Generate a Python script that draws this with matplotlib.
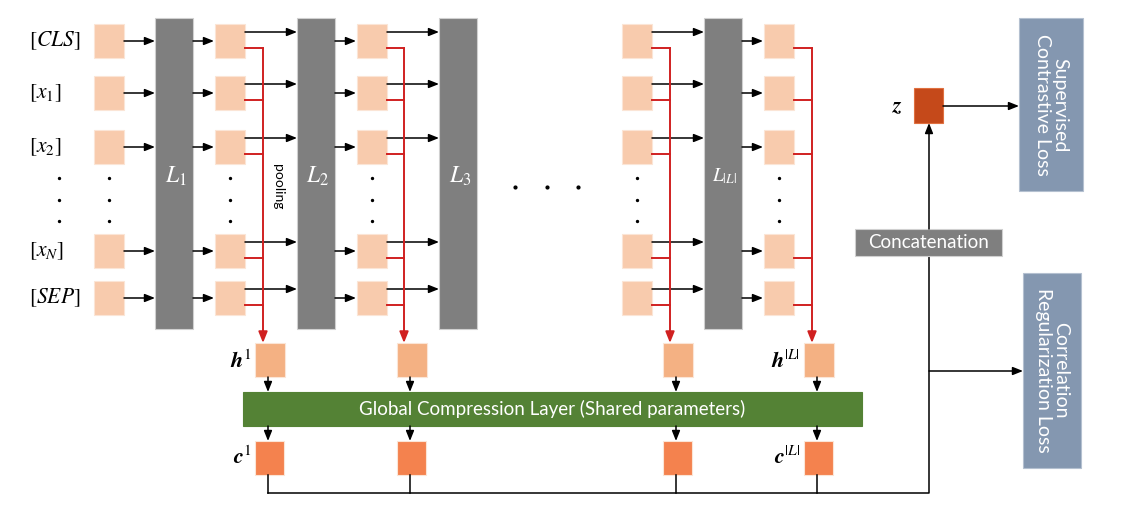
import matplotlib
matplotlib.use("Agg")
import matplotlib.pyplot as plt
from matplotlib.patches import Rectangle

plt.rcParams['mathtext.fontset'] = 'stix'
plt.rcParams['font.family'] = ['Lato', 'DejaVu Sans']

# Diagram content
token_labels = [r'$[CLS]$', r'$[x_1]$', r'$[x_2]$', r'$[x_N]$', r'$[SEP]$']
layer_labels = [r'$L_1$', r'$L_2$', r'$L_3$', r'$L_{|L|}$']
h_labels = [r'$\mathbfit{h}^1$', '', '', r'$\mathbfit{h}^{|L|}$']
c_labels = [r'$\mathbfit{c}^1$', '', '', r'$\mathbfit{c}^{|L|}$']
compress_label = 'Global Compression Layer (Shared parameters)'
concat_label = 'Concatenation'
z_label = r'$\mathbfit{z}$'
loss_labels = ['Supervised\nContrastive Loss', 'Correlation\nRegularization Loss']
pool_label = 'pooling'

# Layout (pixel coordinates)
row_tops = [24, 76, 130, 234, 281]
box_h = 34
box_w = 30
col_x = [94, 215, 357, 622, 764]
bar_x = [155, 297, 439, 704]
bar_w = 38
bar_top, bar_bot = 18, 329
pool_x = [263, 404, 670, 812]       # red pooling verticals
hc_x = [255, 397, 663, 804]         # h / c boxes
hc_w = 30
h_top, h_bot = 343, 377
g_top, g_bot = 392, 426
c_top, c_bot = 441, 475
bus_y = 493
trunk_x = 929

c_in = '#F8CBAD'
c_bar = '#7F7F7F'
c_h = '#F4B183'
c_c = '#F4824E'
c_green = '#548235'
c_loss = '#8497B0'
c_z = '#C5491A'
c_red = '#D02020'

fig = plt.figure(figsize=(11.23, 5.18), dpi=100)
ax = fig.add_axes([0, 0, 1, 1])
ax.set_xlim(0, 1123)
ax.set_ylim(518, 0)
ax.axis('off')


def rect(x, y, w, h, fc, ec='#EDEDED', lw=0.8, z=2):
    ax.add_patch(Rectangle((x, y), w, h, facecolor=fc, edgecolor=ec, lw=lw, zorder=z))


def arrow(x1, y1, x2, y2, color='black', lw=1.1, ms=11):
    ax.annotate('', xy=(x2, y2), xytext=(x1, y1),
                arrowprops=dict(arrowstyle='-|>,head_length=0.55,head_width=0.22',
                                color=color, lw=lw, mutation_scale=ms,
                                shrinkA=0, shrinkB=0), zorder=3)


# token labels
for lab, top in zip(token_labels, row_tops):
    ax.text(29, top + box_h / 2, lab, fontsize=15.5, ha='left', va='center')

# token boxes in every column
for cx in col_x:
    for top in row_tops:
        rect(cx, top, box_w, box_h, c_in, ec='#FBE5D6')

# layer bars
for bx, lab in zip(bar_x, layer_labels):
    rect(bx, bar_top, bar_w, bar_bot - bar_top, c_bar, ec='#D0D0D0')
    fs = 14 if '|' in lab else 17
    ax.text(bx + bar_w / 2 + 2, 176, lab, color='white', fontsize=fs,
            ha='center', va='center', zorder=4)

# vertical dots
dot_x = [59] + [cx + box_w / 2 for cx in col_x]
for dx in dot_x:
    for dy in [178, 200, 221]:
        ax.plot(dx, dy, 'o', color='black', ms=1.4, zorder=3)
for dx in [515, 547, 578]:
    ax.plot(dx, 187, 'o', color='black', ms=2.0, zorder=3)

# arrows: input -> L1, L1 -> col1, L2 -> col2, L|L| -> col4
feeds = [(None, 0, 0), (0, None, 1), (1, None, 2), (3, None, 4)]
for top in row_tops:
    mid = top + box_h / 2
    arrow(col_x[0] + box_w, mid, bar_x[0], mid)
    for b, c in [(0, 1), (1, 2), (3, 4)]:
        arrow(bar_x[b] + bar_w, mid, col_x[c] - 1, mid)

# outputs of each column: black into next layer, red to pooling line
out_cols = [1, 2, 3, 4]
next_bar = [1, 2, 3, None]
for k, ci in enumerate(out_cols):
    cx = col_x[ci] + box_w
    px = pool_x[k]
    for top in row_tops:
        if next_bar[k] is not None:
            arrow(cx, top + 8, bar_x[next_bar[k]], top + 8)
        ry = top + box_h - 10
        ax.plot([cx, px], [ry, ry], color=c_red, lw=1.4, zorder=2.5)
    arrow(px, row_tops[0] + box_h - 10, px, h_top, color=c_red, lw=1.4, ms=12)

ax.text(278, 187, pool_label, fontsize=10, rotation=-90, ha='center', va='center')

# h boxes, compression layer, c boxes
rect(243, g_top, 619, g_bot - g_top, c_green, ec='#548235')
ax.text(552, g_top + (g_bot - g_top) / 2, compress_label, color='white', fontsize=13.5,
        ha='center', va='center', zorder=4)
for k, hx in enumerate(hc_x):
    rect(hx, h_top, hc_w, h_bot - h_top, c_h, ec='#FBE5D6')
    rect(hx, c_top, hc_w - 1, c_bot - c_top, c_c, ec='#FBE5D6')
    mx = hx + 13
    arrow(mx, h_bot, mx, g_top)
    arrow(mx, g_bot, mx, c_top)
    ax.plot([mx, mx], [c_bot, bus_y], color='black', lw=1.1, zorder=2)
    if h_labels[k]:
        ax.text(hx - 4, 361, h_labels[k], fontsize=16, ha='right', va='center')
        ax.text(hx - 4, 457, c_labels[k], fontsize=16, ha='right', va='center')

# bus and trunk
ax.plot([hc_x[0] + 13, trunk_x, trunk_x], [bus_y, bus_y, 256], color='black', lw=1.1, zorder=2)
rect(855, 229, 147, 27, c_bar, ec='#D0D0D0')
ax.text(928.5, 243, concat_label, color='white', fontsize=13.5, ha='center', va='center', zorder=4)
arrow(trunk_x, 229, trunk_x, 123)
arrow(trunk_x, 371, 1023, 371)

# z and losses
rect(914, 88, 29, 35, c_z, ec='#E07040')
ax.text(898, 106, z_label, fontsize=16, ha='center', va='center')
arrow(943, 106, 1019, 106)

rect(1019, 18, 64, 173, c_loss, ec='#B4C0D0')
ax.text(1051, 105, loss_labels[0], color='white', fontsize=14, rotation=-90,
        ha='center', va='center', linespacing=1.0, zorder=4)
rect(1023, 273, 58, 195, c_loss, ec='#B4C0D0')
ax.text(1052, 370, loss_labels[1], color='white', fontsize=14, rotation=-90,
        ha='center', va='center', linespacing=1.0, zorder=4)

fig.savefig('out.png', dpi=100)
